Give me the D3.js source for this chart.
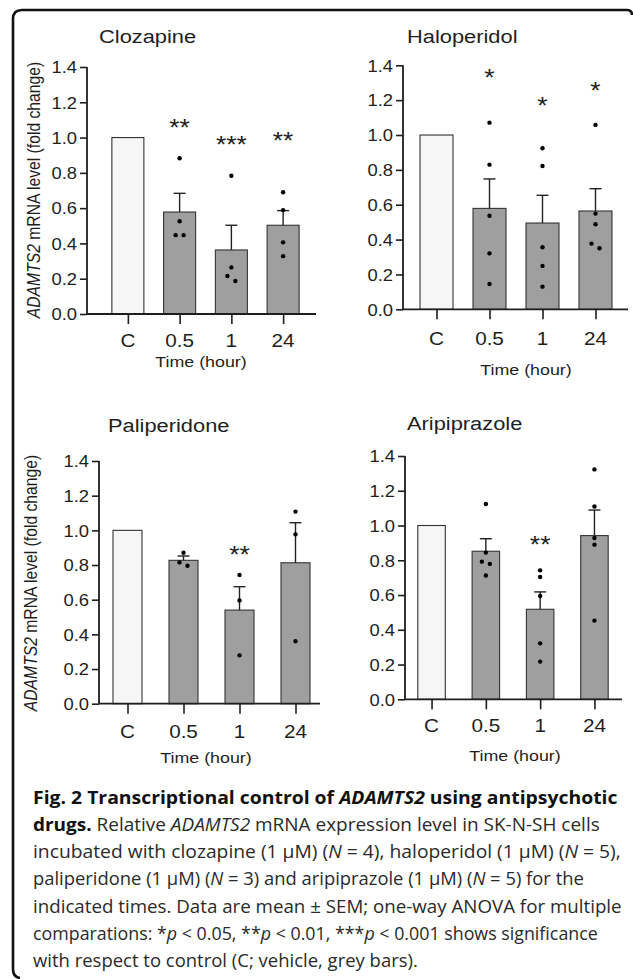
<!DOCTYPE html>
<html>
<head>
<meta charset="utf-8">
<script src="https://cdn.jsdelivr.net/npm/d3@7"></script>
<style>
  html, body { margin: 0; padding: 0; background: #fff; }
  svg { display: block; }
  text { font-family: "Liberation Sans", Arial, sans-serif; fill: #1e1e1e; }
  .cap text, text.cap { font-family: "Open Sans", "Noto Sans", sans-serif; }
</style>
</head>
<body>
<svg id="chart" width="633" height="979"></svg>
<script>
// ---------------- DATA ----------------
const categories = ["C", "0.5", "1", "24"];
const drugs = ["Clozapine", "Haloperidol", "Paliperidone", "Aripiprazole"];
const yTicks = [0, 0.2, 0.4, 0.6, 0.8, 1.0, 1.2, 1.4];

const clozapineMean = [1.0, 0.578, 0.363, 0.503];
const clozapineSem = [0, 0.106, 0.140, 0.083];
const clozapinePoints = [[], [0.883, 0.526, 0.447, 0.447], [0.784, 0.264, 0.215, 0.187], [0.690, 0.589, 0.406, 0.328]];
const clozapineStars = ["", "**", "***", "**"];
const clozapineStarLevel = [null, 1.083, 0.986, 1.009];

const haloperidolMean = [1.0, 0.579, 0.495, 0.564];
const haloperidolSem = [0, 0.169, 0.159, 0.128];
const haloperidolPoints = [[], [1.071, 0.830, 0.537, 0.321, 0.145], [0.924, 0.822, 0.356, 0.249, 0.130], [1.058, 0.549, 0.488, 0.377, 0.350]];
const haloperidolStars = ["", "*", "*", "*"];
const haloperidolStarLevel = [null, 1.356, 1.196, 1.279];

const paliperidoneMean = [1.0, 0.827, 0.540, 0.813];
const paliperidoneSem = [0, 0.025, 0.135, 0.231];
const paliperidonePoints = [[], [0.871, 0.815, 0.796], [0.742, 0.596, 0.279], [1.108, 0.977, 0.360]];
const paliperidoneStars = ["", "", "**", ""];
const paliperidoneStarLevel = [null, null, 0.889, null];

const aripiprazoleMean = [1.0, 0.852, 0.518, 0.942];
const aripiprazoleSem = [0, 0.072, 0.100, 0.147];
const aripiprazolePoints = [[], [1.124, 0.844, 0.792, 0.779, 0.712], [0.742, 0.704, 0.595, 0.322, 0.217], [1.323, 1.109, 0.928, 0.890, 0.453]];
const aripiprazoleStars = ["", "", "**", ""];
const aripiprazoleStarLevel = [null, null, 0.919, null];

const xAxisTitle = "Time (hour)";

// ---------------- LAYOUT ----------------
const layouts = [
  { axisX: 87,  y0: 314,   yTop: 67,    xr: [102, 309],     barW: 32,   axisEnd: 316, titleX: 99,  titleY: 43,  tickY: 347, xtX: 201, xtY: 367, yLab: {x: 40, y: 190} },
  { axisX: 403, y0: 309.3, yTop: 65.3,  xr: [410, 622],     barW: 33,   axisEnd: 628, titleX: 407, titleY: 43,  tickY: 345, xtX: 526, xtY: 375, yLab: null },
  { axisX: 99,  y0: 703.7, yTop: 461,   xr: [99.5, 323.5],  barW: 29,   axisEnd: 320, titleX: 108, titleY: 432, tickY: 738, xtX: 206, xtY: 763, yLab: {x: 37, y: 583} },
  { axisX: 405, y0: 699.3, yTop: 456,   xr: [404.4, 621.6], barW: 27.5, axisEnd: 622, titleX: 407, titleY: 430, tickY: 732, xtX: 515, xtY: 761, yLab: null }
];

const series = [
  { mean: clozapineMean, sem: clozapineSem, pts: clozapinePoints, stars: clozapineStars, starLv: clozapineStarLevel },
  { mean: haloperidolMean, sem: haloperidolSem, pts: haloperidolPoints, stars: haloperidolStars, starLv: haloperidolStarLevel },
  { mean: paliperidoneMean, sem: paliperidoneSem, pts: paliperidonePoints, stars: paliperidoneStars, starLv: paliperidoneStarLevel },
  { mean: aripiprazoleMean, sem: aripiprazoleSem, pts: aripiprazolePoints, stars: aripiprazoleStars, starLv: aripiprazoleStarLevel }
];

const svg = d3.select("#chart");
const SX = 1.15; // horizontal stretch of chart lettering
const ink = "#1e1e1e";

function stretchedText(g, x, y, str, size, anchor) {
  return g.append("text")
    .attr("transform", `translate(${x},${y}) scale(${SX},1)`)
    .attr("text-anchor", anchor)
    .attr("font-size", size)
    .text(str);
}

drugs.forEach((drug, k) => {
  const L = layouts[k];
  const S = series[k];
  const g = svg.append("g");

  const y = d3.scaleLinear().domain([0, 1.4]).range([L.y0, L.yTop]);
  const x = d3.scalePoint().domain(categories).range(L.xr).padding(0.5);

  // title
  stretchedText(g, L.titleX, L.titleY, drug, 19, "start");

  // bars
  g.selectAll("rect.bar").data(categories).join("rect")
    .attr("x", (c) => x(c) - L.barW / 2)
    .attr("y", (c, i) => y(S.mean[i]))
    .attr("width", L.barW)
    .attr("height", (c, i) => y(0) - y(S.mean[i]))
    .attr("fill", (c, i) => i === 0 ? "#f6f6f6" : "#9f9f9f")
    .attr("stroke", "#333")
    .attr("stroke-width", 1.1);

  // error bars (upper only)
  categories.forEach((c, i) => {
    if (!S.sem[i]) return;
    const cx = x(c);
    g.append("line").attr("x1", cx).attr("x2", cx)
      .attr("y1", y(S.mean[i])).attr("y2", y(S.mean[i] + S.sem[i]))
      .attr("stroke", "#222").attr("stroke-width", 1.4);
    g.append("line").attr("x1", cx - 6).attr("x2", cx + 6)
      .attr("y1", y(S.mean[i] + S.sem[i])).attr("y2", y(S.mean[i] + S.sem[i]))
      .attr("stroke", "#222").attr("stroke-width", 1.4);
  });

  // individual points, side-by-side when nearly equal
  categories.forEach((c, i) => {
    const vals = S.pts[i].slice().sort((a, b) => b - a);
    const offs = vals.map(() => 0);
    for (let j = 0; j < vals.length - 1; j++) {
      if (offs[j] === 0 && Math.abs(vals[j] - vals[j + 1]) < 0.03) {
        offs[j] = -4; offs[j + 1] = 4; j++;
      }
    }
    g.selectAll(null).data(vals).join("circle")
      .attr("cx", (v, j) => x(c) + offs[j])
      .attr("cy", (v) => y(v))
      .attr("r", 2.2)
      .attr("fill", "#000");
  });

  // significance stars
  categories.forEach((c, i) => {
    if (!S.stars[i]) return;
    stretchedText(g, x(c), y(S.starLv[i]) + 13, S.stars[i], 23, "middle");
  });

  // y axis
  const yAx = g.append("g").attr("transform", `translate(${L.axisX},0)`)
    .call(d3.axisLeft(y).tickValues(yTicks).tickSize(7).tickPadding(3).tickFormat(d3.format(".1f")));
  yAx.select(".domain").attr("d", `M0,${L.yTop}V${L.y0}`).attr("stroke", ink).attr("stroke-width", 1.8);
  yAx.selectAll(".tick line").attr("stroke", ink).attr("stroke-width", 1.6);
  yAx.selectAll(".tick text").each(function () {
    const t = d3.select(this);
    t.attr("font-size", 16).attr("font-family", null).attr("fill", ink)
      .attr("transform", `translate(-10,0) scale(${SX},1)`).attr("x", 0).attr("dy", "0.36em");
  });

  // x axis
  const xAx = g.append("g").attr("transform", `translate(0,${L.y0})`)
    .call(d3.axisBottom(x).tickSize(10).tickFormat(() => ""));
  xAx.select(".domain").attr("d", `M${L.axisX},0H${L.axisEnd}`).attr("stroke", ink).attr("stroke-width", 1.8);
  xAx.selectAll(".tick line").attr("stroke", ink).attr("stroke-width", 1.6);
  categories.forEach((c) => stretchedText(g, x(c), L.tickY, c, 18, "middle"));

  // x title
  stretchedText(g, L.xtX, L.xtY, xAxisTitle, 15.5, "middle");

  // y title
  if (L.yLab) {
    const t = g.append("text")
      .attr("transform", `translate(${L.yLab.x},${L.yLab.y}) rotate(-90) scale(1,${SX})`)
      .attr("text-anchor", "middle").attr("font-size", 15.7);
    t.append("tspan").attr("font-style", "italic").text("ADAMTS2");
    t.append("tspan").text(" mRNA level (fold change)");
  }
});

// ---------------- FRAME ----------------
svg.append("path")
  .attr("d", "M632,15 Q632,10 627,10 L22,10 Q13,10 13,19 L13,969 Q13,977 20,978")
  .attr("fill", "none").attr("stroke", "#111").attr("stroke-width", 2.6);

// ---------------- CAPTION ----------------
const captionLines = [
  [["Fig. 2 Transcriptional control of ", "b"], ["ADAMTS2", "bi"], [" using antipsychotic", "b"]],
  [["drugs.", "b"], [" Relative ", ""], ["ADAMTS2", "i"], [" mRNA expression level in SK-N-SH cells", ""]],
  [["incubated with clozapine (1 μM) (", ""], ["N", "i"], [" = 4), haloperidol (1 μM) (", ""], ["N", "i"], [" = 5),", ""]],
  [["paliperidone (1 μM) (", ""], ["N", "i"], [" = 3) and aripiprazole (1 μM) (", ""], ["N", "i"], [" = 5) for the", ""]],
  [["indicated times. Data are mean ± SEM; one-way ANOVA for multiple", ""]],
  [["comparations: *", ""], ["p", "i"], [" < 0.05, **", ""], ["p", "i"], [" < 0.01, ***", ""], ["p", "i"], [" < 0.001 shows significance", ""]],
  [["with respect to control (C; vehicle, grey bars).", ""]]
];
const captionWidths = [585, 567, 588, 551, 589, 565, 385];
const capX = 33, capY0 = 803.5, capStep = 27.3;

captionLines.forEach((parts, li) => {
  const t = svg.append("text").attr("class", "cap")
    .attr("font-size", 18).attr("x", 0).attr("y", 0);
  parts.forEach(([s, f]) => {
    t.append("tspan")
      .attr("font-weight", f.includes("b") ? 700 : 400)
      .attr("font-style", f.includes("i") ? "italic" : "normal")
      .attr("fill", f.includes("b") ? "#111" : "#2a2a2a")
      .text(s);
  });
  const w = t.node().getComputedTextLength();
  t.attr("transform", `translate(${capX},${capY0 + li * capStep}) scale(${captionWidths[li] / w},1)`);
});
</script>
</body>
</html>
